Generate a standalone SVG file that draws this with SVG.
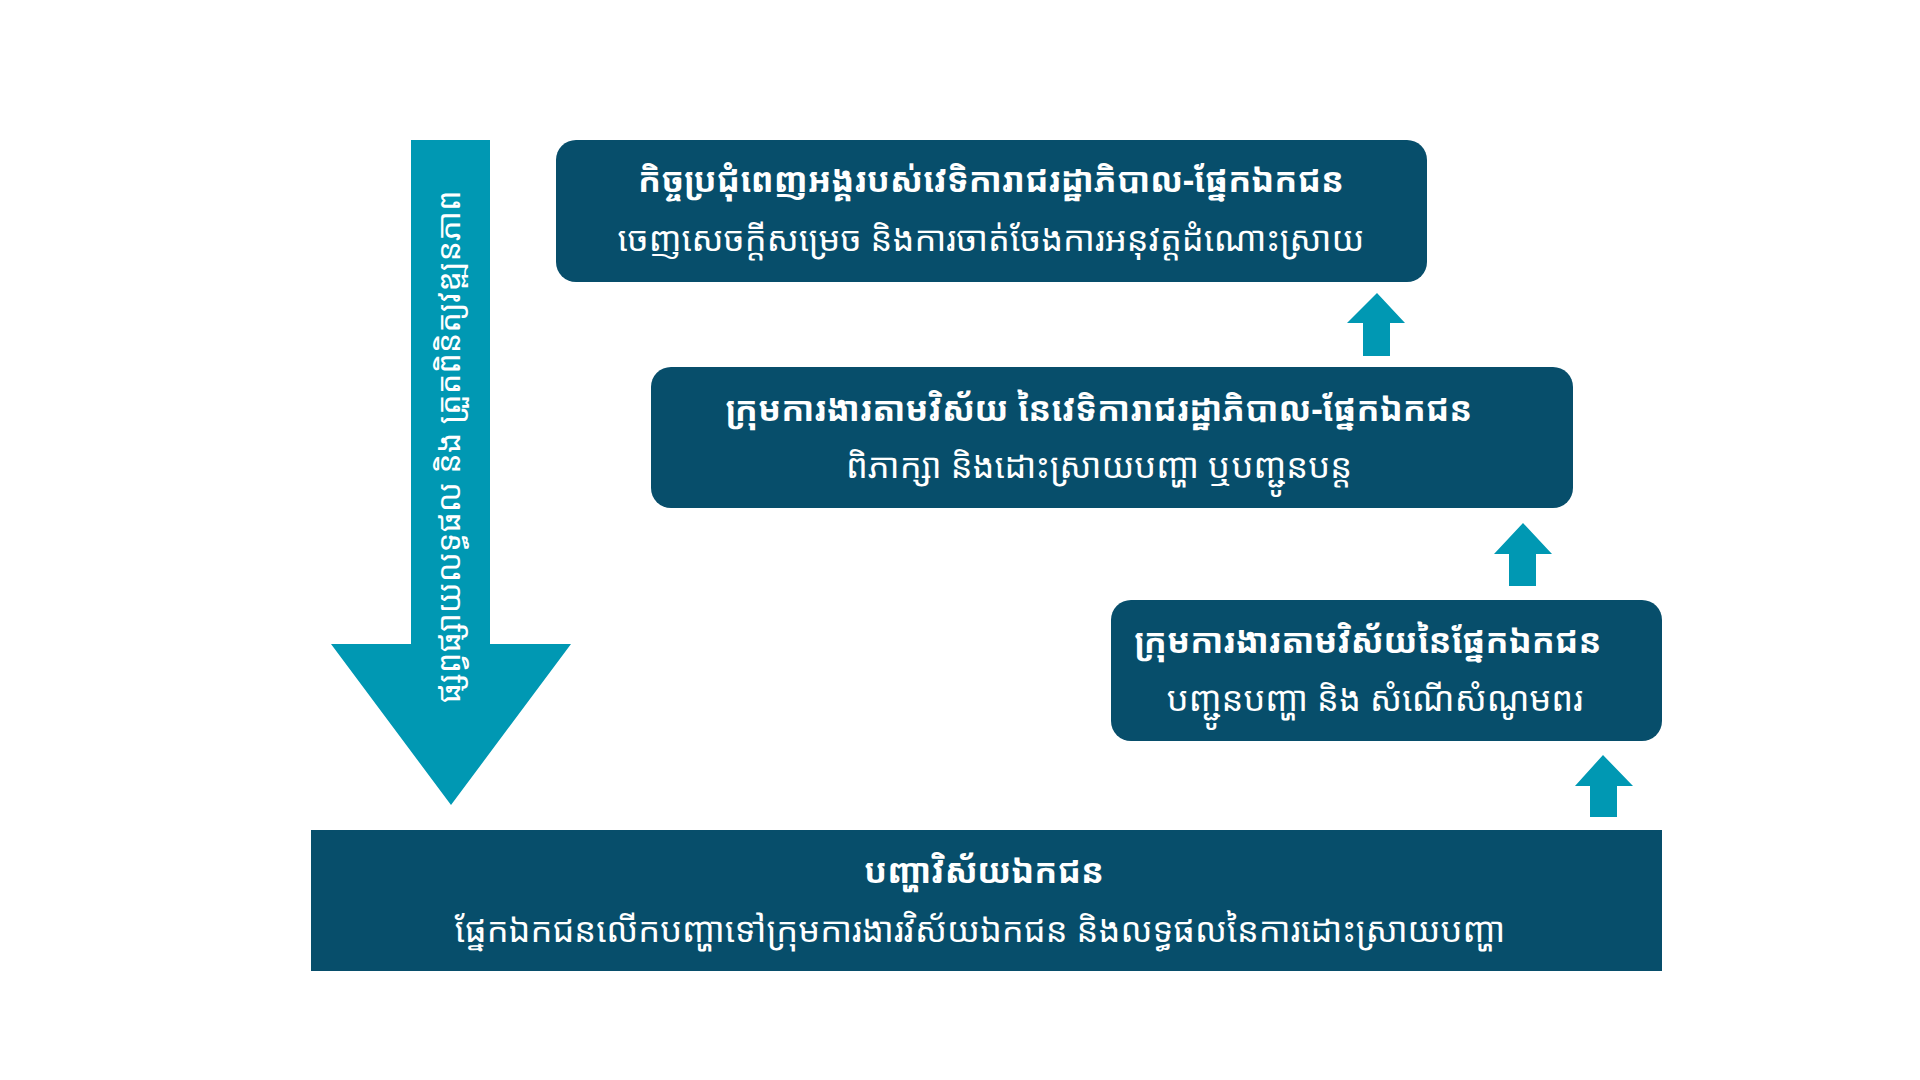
<svg xmlns="http://www.w3.org/2000/svg" width="1920" height="1080" viewBox="0 0 1920 1080">
<style>
.box{fill:#074e6b}
.arr{fill:#0098b3}
.t{font-family:"Noto Sans Khmer","Noto Serif Khmer","Khmer OS","Noto Sans","DejaVu Sans",sans-serif;fill:#ffffff;text-anchor:middle}
.h{font-size:34px;font-weight:bold}
.s{font-size:34.5px}
.v{font-size:32.4px}
</style>
<rect width="1920" height="1080" fill="#ffffff"/>
<g id="connectors">
<polygon id="down-arrow" class="arr" points="411,140 490,140 490,644 571,644 451,805 331,644 411,644"/>
<polygon id="up1" class="arr" points="1363,356 1390,356 1390,323 1405,323 1377,293 1347,323 1363,323"/>
<polygon id="up2" class="arr" points="1509,586 1536,586 1536,554 1552,554 1523,523 1494,554 1509,554"/>
<polygon id="up3" class="arr" points="1590,817 1617,817 1617,786 1633,786 1603,755 1575,786 1590,786"/>
<text class="t v" transform="translate(449,447) rotate(-90)" dy="11">ផ្សព្វផ្សាយលទ្ធផល និង ត្រួតពិនិត្យវឌ្ឍនភាព</text>
</g>
<g id="node-plenary">
<rect class="box" x="556" y="140" width="871" height="142" rx="20"/>
<text class="t h" x="991" y="192">កិច្ចប្រជុំពេញអង្គរបស់វេទិការាជរដ្ឋាភិបាល-ផ្នែកឯកជន</text>
<text class="t s" x="991" y="251">ចេញសេចក្តីសម្រេច និងការចាត់ចែងការអនុវត្តដំណោះស្រាយ</text>
</g>
<g id="node-joint-wg">
<rect class="box" x="651" y="367" width="922" height="141" rx="20"/>
<text class="t h" x="1099" y="421">ក្រុមការងារតាមវិស័យ នៃវេទិការាជរដ្ឋាភិបាល-ផ្នែកឯកជន</text>
<text class="t s" x="1099" y="478">ពិភាក្សា និងដោះស្រាយបញ្ហា ឬបញ្ជូនបន្ត</text>
</g>
<g id="node-private-wg">
<rect class="box" x="1111" y="600" width="551" height="141" rx="20"/>
<text class="t h" x="1368" y="653">ក្រុមការងារតាមវិស័យនៃផ្នែកឯកជន</text>
<text class="t s" x="1375" y="711">បញ្ជូនបញ្ហា និង សំណើសំណូមពរ</text>
</g>
<g id="node-issues">
<rect class="box" x="311" y="830" width="1351" height="141"/>
<text class="t h" x="984" y="883">បញ្ហាវិស័យឯកជន</text>
<text class="t s" x="980" y="942">ផ្នែកឯកជនលើកបញ្ហាទៅក្រុមការងារវិស័យឯកជន និងលទ្ធផលនៃការដោះស្រាយបញ្ហា</text>
</g>
</svg>
